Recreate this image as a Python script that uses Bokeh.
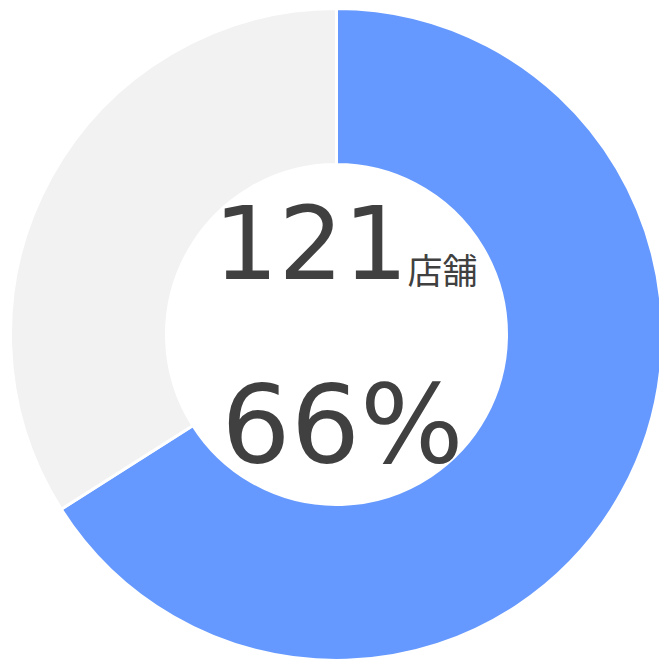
import numpy as np
from bokeh.plotting import figure
from bokeh.models import Range1d, ColumnDataSource
from bokeh.core.properties import value
from bokeh.embed import file_html
from bokeh.resources import INLINE

# data
labels = ["達成", "未達成"]
shares = [66, 34]
colors = ["#6699FF", "#F2F2F2"]
store_count = "121"
store_unit = "店舗"
pct_label = "66%"

W, H = 659, 661
p = figure(width=W, height=H, output_backend="svg", toolbar_location=None,
           x_range=Range1d(0, W), y_range=Range1d(0, H), min_border=0,
           outline_line_color=None)
p.axis.visible = False
p.grid.visible = False
p.background_fill_color = "white"
p.border_fill_color = "white"

fr = np.array(shares, dtype=float) / sum(shares)
cum = np.concatenate([[0], np.cumsum(fr)])
start = np.pi / 2 - 2 * np.pi * cum[:-1]
end = np.pi / 2 - 2 * np.pi * cum[1:]
src = ColumnDataSource(dict(start=start, end=end, color=colors, label=labels))

cx, cy = 336, 327
p.annular_wedge(x=cx, y=cy, inner_radius=170, outer_radius=326,
                start_angle="start", end_angle="end", direction="clock",
                fill_color="color", line_color="white", line_width=3, source=src)

p.text(x=[213], y=[420], text=[store_count], text_font=value("DejaVu Sans"),
       text_font_size="102px", text_color="#404040", text_baseline="alphabetic",
       text_align="left")
p.text(x=[407], y=[393], text=[store_unit], text_font=value("Noto Sans CJK JP"),
       text_font_size="35px", text_color="#404040", text_baseline="alphabetic",
       text_align="left")
p.text(x=[342], y=[237], text=[pct_label], text_font=value("DejaVu Sans"),
       text_font_size="109px", text_color="#404040", text_baseline="alphabetic",
       text_align="center")

open("out.html", "w").write(file_html(p, INLINE))
